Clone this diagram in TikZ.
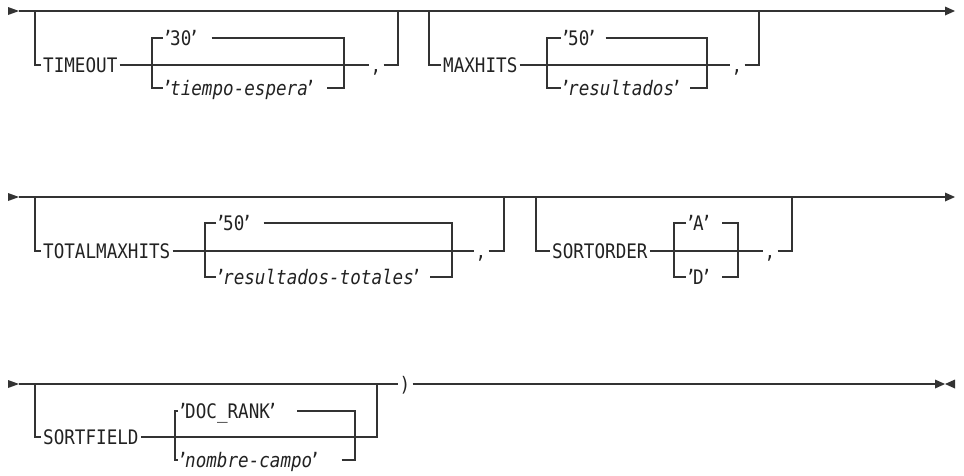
\documentclass[tikz,border=0pt]{standalone}
\usepackage{fontspec}
\newfontfamily\railfont{DejaVu Sans Mono}[FakeStretch=0.88]
\definecolor{linec}{HTML}{333333}
\definecolor{textc}{HTML}{222222}
% narrow quote mark used around literal values
\newcommand\qm{\makebox[5pt]{’}}
\begin{document}
\begin{tikzpicture}[x=1pt,y=-1pt,
  rail/.style={draw=linec,line width=1.1pt},
  kw/.style={font=\railfont\fontsize{20}{22}\selectfont,text=textc,anchor=west,
    inner xsep=2pt,inner ysep=0pt,text height=14.5pt,text depth=0pt},
  sep/.style={kw,anchor=center},
  tip/.style={fill=linec}]
\useasboundingbox (0,0) rectangle (964,475);

% ---------------- row 1 : TIMEOUT / MAXHITS ----------------
\coordinate (r1s) at (19,11);
\coordinate (r1e) at (945,11);
\fill[tip] (8,7) -- (19,11) -- (8,15) -- cycle;
\draw[rail] (r1s) -- (r1e);
\fill[tip] (945,6.5) -- (955,11) -- (945,15.5) -- cycle;

\coordinate (a1) at (35,11);
\coordinate (f1) at (152,65);
\coordinate (j1) at (344,65);
\coordinate (b1) at (398,11);
\node[kw] (timeout) at (41,65) {TIMEOUT};
\node[kw] (v30) at (163,38) {\qm30\qm};
\node[kw] (vte) at (163,88) {\qm\textit{tiempo-espera}\qm};
\node[sep] (c1) at (376,65) {,};
\draw[rail] (a1) |- (timeout.west);
\draw[rail] (timeout.east) -- (f1);
\draw[rail] (v30.west) -| (f1) |- (vte.west);
\draw[rail] ([xshift=13pt]v30.east) -| (j1);
\draw[rail] ([xshift=12pt]vte.east) -| (j1);
\draw[rail] (f1) -- (c1.west);
\draw[rail] (c1.east) -| (b1);

\coordinate (a2) at (429,11);
\coordinate (f2) at (547,65);
\coordinate (j2) at (707,65);
\coordinate (b2) at (759,11);
\node[kw] (maxhits) at (441,65) {MAXHITS};
\node[kw] (v50) at (561,38) {\qm50\qm};
\node[kw] (vres) at (561,88) {\qm\textit{resultados}\qm};
\node[sep] (c2) at (737,65) {,};
\draw[rail] (a2) |- (maxhits.west);
\draw[rail] (maxhits.east) -- (f2);
\draw[rail] (v50.west) -| (f2) |- (vres.west);
\draw[rail] ([xshift=9pt]v50.east) -| (j2);
\draw[rail] ([xshift=9pt]vres.east) -| (j2);
\draw[rail] (f2) -- (c2.west);
\draw[rail] (c2.east) -| (b2);

% ---------------- row 2 : TOTALMAXHITS / SORTORDER ----------------
\coordinate (r2s) at (19,197);
\coordinate (r2e) at (945,197);
\fill[tip] (8,193) -- (19,197) -- (8,201) -- cycle;
\draw[rail] (r2s) -- (r2e);
\fill[tip] (945,192.5) -- (955,197) -- (945,201.5) -- cycle;

\coordinate (a3) at (35,197);
\coordinate (f3) at (205,251);
\coordinate (j3) at (452,251);
\coordinate (b3) at (504,197);
\node[kw] (totalmax) at (41,251) {TOTALMAXHITS};
\node[kw] (v50b) at (216,223) {\qm50\qm};
\node[kw] (vrt) at (216,277) {\qm\textit{resultados-totales}\qm};
\node[sep] (c3) at (481,251) {,};
\draw[rail] (a3) |- (totalmax.west);
\draw[rail] (totalmax.east) -- (f3);
\draw[rail] (v50b.west) -| (f3) |- (vrt.west);
\draw[rail] ([xshift=12pt]v50b.east) -| (j3);
\draw[rail] ([xshift=9pt]vrt.east) -| (j3);
\draw[rail] (f3) -- (c3.west);
\draw[rail] (c3.east) -| (b3);

\coordinate (a4) at (536,197);
\coordinate (f4) at (674,251);
\coordinate (j4) at (738,251);
\coordinate (b4) at (792,197);
\node[kw] (sortorder) at (550,251) {SORTORDER};
\node[kw] (vA) at (686,223) {\qm A\qm};
\node[kw] (vD) at (686,277) {\qm D\qm};
\node[sep] (c4) at (770,251) {,};
\draw[rail] (a4) |- (sortorder.west);
\draw[rail] (sortorder.east) -- (f4);
\draw[rail] (vA.west) -| (f4) |- (vD.west);
\draw[rail] ([xshift=11pt]vA.east) -| (j4);
\draw[rail] ([xshift=11pt]vD.east) -| (j4);
\draw[rail] (f4) -- (c4.west);
\draw[rail] (c4.east) -| (b4);

% ---------------- row 3 : SORTFIELD and end of statement ----------------
\coordinate (r3s) at (19,384);
\coordinate (r3e) at (935,384);
\fill[tip] (8,380) -- (19,384) -- (8,388) -- cycle;
\node[sep] (paren) at (405,384) {)};
\draw[rail] (r3s) -- (paren.west);
\draw[rail] (paren.east) -- (r3e);
\fill[tip] (935,379.5) -- (945,384) -- (935,388.5) -- cycle;
\fill[tip] (955,379.5) -- (945,384) -- (955,388.5) -- cycle;

\coordinate (a5) at (35,384);
\coordinate (f5) at (175,437);
\coordinate (j5) at (355,437);
\coordinate (b5) at (377,384);
\node[kw] (sortfield) at (41,437) {SORTFIELD};
\node[kw] (vdoc) at (178,411) {\qm DOC\_RANK\qm};
\node[kw] (vnc) at (178,460) {\qm\textit{nombre-campo}\qm};
\draw[rail] (a5) |- (sortfield.west);
\draw[rail] (sortfield.east) -- (f5);
\draw[rail] (vdoc.west) -| (f5) |- (vnc.west);
\draw[rail] ([xshift=20pt]vdoc.east) -| (j5);
\draw[rail] ([xshift=22pt]vnc.east) -| (j5);
\draw[rail] (f5) -| (b5);
\end{tikzpicture}
\end{document}
